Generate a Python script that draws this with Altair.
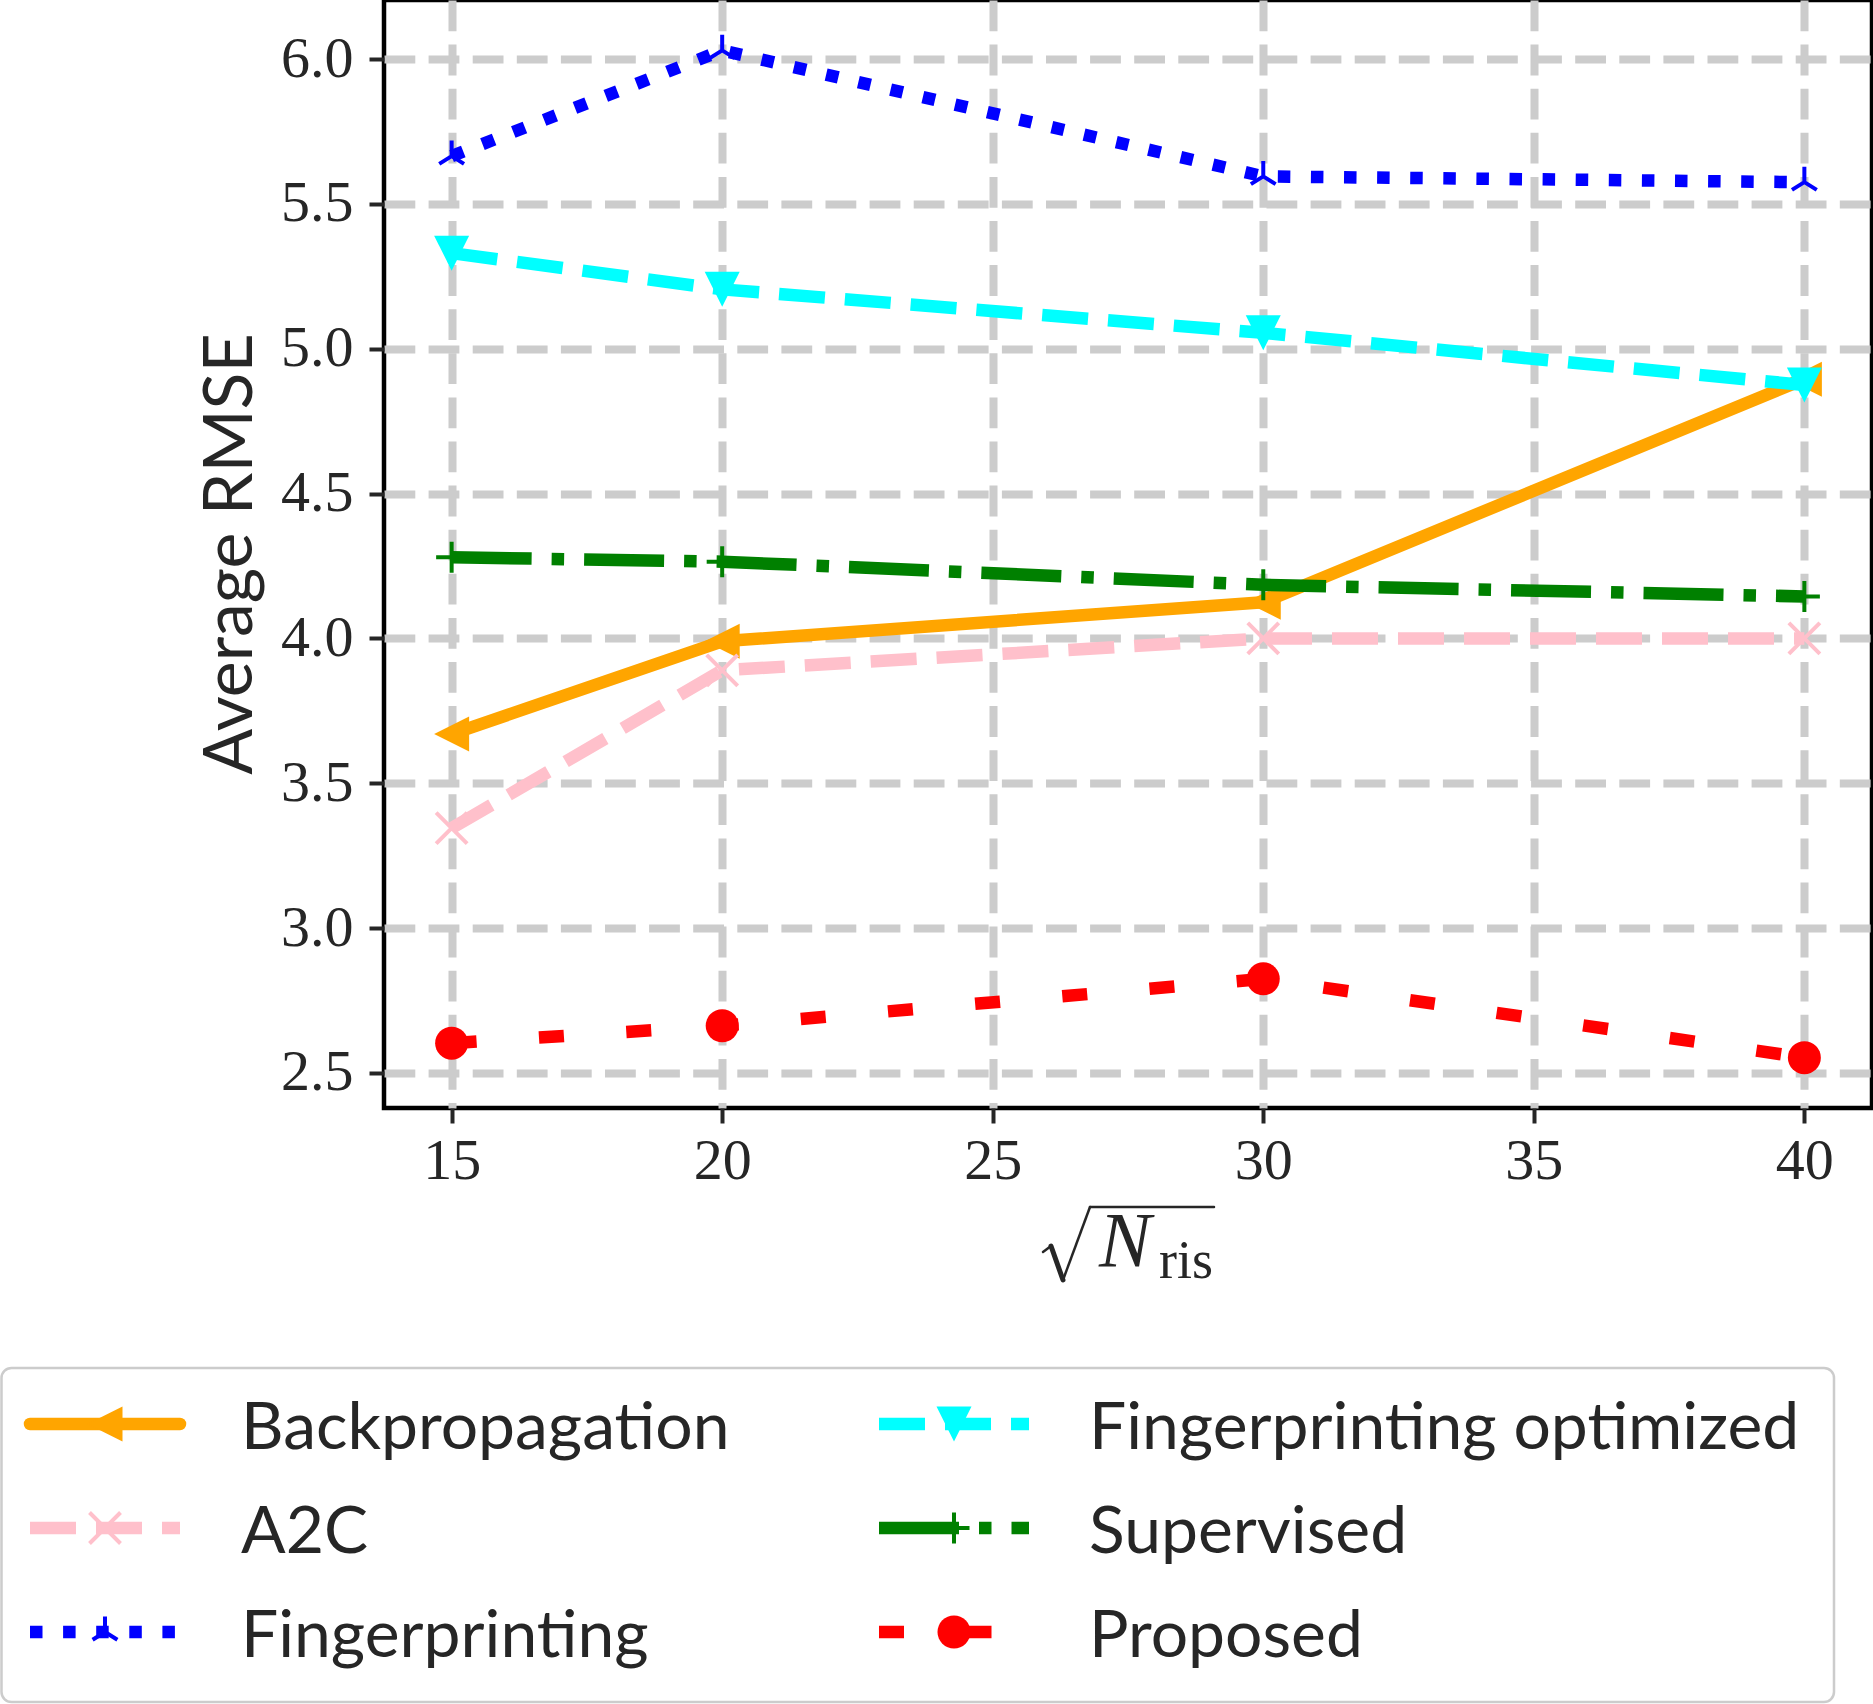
import altair as alt
import pandas as pd

# ---- data -------------------------------------------------------------
x_vals = [15, 20, 30, 40]
series_names = [
    "Backpropagation",
    "A2C",
    "Fingerprinting",
    "Fingerprinting optimized",
    "Supervised",
    "Proposed",
]
backpropagation = [3.67, 3.99, 4.125, 4.895]
a2c = [3.345, 3.89, 4.0, 4.0]
fingerprinting = [5.665, 6.03, 5.595, 5.575]
fingerprinting_optimized = [5.33, 5.205, 5.055, 4.875]
supervised = [4.28, 4.265, 4.185, 4.145]
proposed = [2.603, 2.663, 2.825, 2.553]
x_ticks = [15, 20, 25, 30, 35, 40]
y_ticks = [2.5, 3.0, 3.5, 4.0, 4.5, 5.0, 5.5, 6.0]

series_values = [backpropagation, a2c, fingerprinting,
                 fingerprinting_optimized, supervised, proposed]

rows = []
for name, vals in zip(series_names, series_values):
    for xv, yv in zip(x_vals, vals):
        rows.append({"series": name, "x": xv, "value": yv})
df = pd.DataFrame(rows)

# ---- styling ----------------------------------------------------------
LW = 12.5
TEXT = "#262626"
SANS = "Lato"
SERIF = "Liberation Serif"
styles = {
    "Backpropagation": dict(color="#FFA500", dash=None, cap="round",
                            shape="M-1,0L1,-1L1,1Z", filled=True, size=35 ** 2),
    "A2C": dict(color="#FFC0CB", dash=[46, 20], cap="butt",
                shape="M-1,-1L1,1M-1,1L1,-1", filled=False, size=31 ** 2),
    "Fingerprinting": dict(color="#0000FF", dash=[12.5, 20.6], cap="butt",
                           shape="M0,0L0,-1M0,0L0.8,0.5M0,0L-0.8,0.5",
                           filled=False, size=31 ** 2),
    "Fingerprinting optimized": dict(color="#00FFFF", dash=[46, 20], cap="butt",
                                     shape="M0,1L-1,-1L1,-1Z", filled=True,
                                     size=35 ** 2),
    "Supervised": dict(color="#008000", dash=[80, 20, 12.5, 20], cap="butt",
                       shape="M-1,0L1,0M0,-1L0,1", filled=False, size=31 ** 2),
    "Proposed": dict(color="#FF0000", dash=[25, 62.5], cap="butt",
                     shape="circle", filled=True, size=33 ** 2),
}

# axis limits with 5% margins around the data
all_vals = [v for vals in series_values for v in vals]
y_lo, y_hi = min(all_vals), max(all_vals)
y_pad = 0.05 * (y_hi - y_lo)
x_pad = 0.05 * (max(x_vals) - min(x_vals))

PLOT_W, PLOT_H = 1488, 1108
LEFT = 384  # offset of the plot area from the page's left edge

x_enc = alt.X(
    "x:Q",
    scale=alt.Scale(domain=[min(x_vals) - x_pad, max(x_vals) + x_pad],
                    nice=False, zero=False),
    axis=alt.Axis(values=x_ticks, title=None, format="d"),
)
y_enc = alt.Y(
    "value:Q",
    scale=alt.Scale(domain=[y_lo - y_pad, y_hi + y_pad], nice=False, zero=False),
    axis=alt.Axis(values=y_ticks, title=None, format=".1f"),
)

base = alt.Chart(df)
layers = []
for name in series_names:
    st = styles[name]
    line_kw = dict(color=st["color"], strokeWidth=LW, strokeJoin="round",
                   strokeCap=st["cap"])
    if st["dash"]:
        line_kw["strokeDash"] = st["dash"]
    sub = base.transform_filter(alt.datum.series == name)
    layers.append(sub.mark_line(**line_kw).encode(x=x_enc, y=y_enc))
    pt_kw = dict(shape=st["shape"], size=st["size"], filled=st["filled"],
                 color=st["color"], opacity=1)
    if not st["filled"]:
        pt_kw["strokeWidth"] = 4
    layers.append(sub.mark_point(**pt_kw).encode(x=x_enc, y=y_enc))

one = pd.DataFrame({"k": [0]})

# ---- y axis title -----------------------------------------------------
layers.append(
    alt.Chart(one).mark_text(angle=270, align="center", baseline="alphabetic",
                             font=SANS, fontSize=68, color=TEXT)
    .encode(x=alt.value(252 - LEFT), y=alt.value(554), text=alt.value("Average RMSE"))
)

# ---- x axis title: square root of N_ris ---------------------------------
radical = [
    (1043, 1252, 1051, 1246, 2.5),
    (1051, 1246, 1063, 1280, 5.0),
    (1063, 1280, 1090, 1207, 2.5),
    (1090, 1207, 1214, 1207, 2.5),
]
for x0, y0, x1, y1, w in radical:
    layers.append(
        alt.Chart(one).mark_rule(color=TEXT, strokeWidth=w, strokeCap="round")
        .encode(x=alt.value(x0 - LEFT), x2=alt.value(x1 - LEFT),
                y=alt.value(y0), y2=alt.value(y1))
    )
layers.append(
    alt.Chart(one).mark_text(align="left", baseline="alphabetic", font=SERIF,
                             fontStyle="italic", fontSize=78, color=TEXT)
    .encode(x=alt.value(1099 - LEFT), y=alt.value(1266), text=alt.value("N"))
)
layers.append(
    alt.Chart(one).mark_text(align="left", baseline="alphabetic", font=SERIF,
                             fontSize=54, color=TEXT)
    .encode(x=alt.value(1159 - LEFT), y=alt.value(1278), text=alt.value("ris"))
)

# ---- legend -----------------------------------------------------------
LEG_FS = 66
layers.append(
    alt.Chart(one).mark_rect(fill="white", stroke="#cccccc", strokeWidth=2.5,
                             cornerRadius=10)
    .encode(x=alt.value(1.5 - LEFT), x2=alt.value(1834 - LEFT),
            y=alt.value(1368), y2=alt.value(1702))
)
handle_x = [30, 879]
text_x = [241, 1089]
row_y = [1424, 1528, 1632]
for i, name in enumerate(series_names):
    st = styles[name]
    col, row = divmod(i, 3)
    hx0 = handle_x[col] - LEFT
    yl = row_y[row]
    rule_kw = dict(color=st["color"], strokeWidth=LW, strokeCap=st["cap"])
    if st["dash"]:
        rule_kw["strokeDash"] = st["dash"]
    layers.append(
        alt.Chart(one).mark_rule(**rule_kw)
        .encode(x=alt.value(hx0), x2=alt.value(hx0 + 150),
                y=alt.value(yl), y2=alt.value(yl))
    )
    pt_kw = dict(shape=st["shape"], size=st["size"], filled=st["filled"],
                 color=st["color"], opacity=1)
    if not st["filled"]:
        pt_kw["strokeWidth"] = 4
    layers.append(
        alt.Chart(one).mark_point(**pt_kw)
        .encode(x=alt.value(hx0 + 75), y=alt.value(yl))
    )
    layers.append(
        alt.Chart(one).mark_text(align="left", baseline="alphabetic", font=SANS,
                                 fontSize=LEG_FS, color=TEXT)
        .encode(x=alt.value(text_x[col] - LEFT), y=alt.value(yl + 25),
                text=alt.value(name))
    )

chart = (
    alt.layer(*layers)
    .properties(
        width=PLOT_W,
        height=PLOT_H,
        autosize=alt.AutoSizeParams(type="none"),
        padding={"left": LEFT, "top": 0, "right": 1, "bottom": 596},
        background="white",
    )
    .configure_view(stroke="black", strokeWidth=4.5)
    .configure_axis(
        domain=False,
        grid=True,
        gridColor="#cccccc",
        gridWidth=8,
        gridDash=[30.8, 13.3],
        gridOpacity=1,
        ticks=True,
        tickColor=TEXT,
        tickWidth=4,
        tickSize=15,
        labelFont=SERIF,
        labelFontSize=58,
        labelColor=TEXT,
    )
    .configure_axisX(labelPadding=9, labelBaseline="top")
    .configure_axisY(labelPadding=16)
)

chart.save("out.html", embed_options={"renderer": "svg", "actions": False})
